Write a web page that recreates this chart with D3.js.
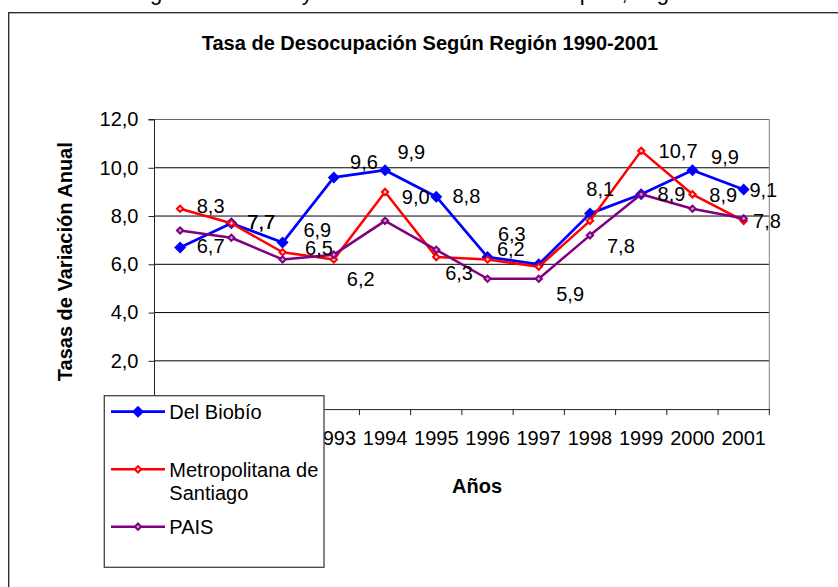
<!DOCTYPE html>
<html>
<head>
<meta charset="utf-8">
<script src="https://cdn.jsdelivr.net/npm/d3@7"></script>
<style>
  body { margin: 0; background: #fff; }
  svg { display: block; font-family: "Liberation Sans", Arial, sans-serif; }
</style>
</head>
<body>
<script>
const years = [1990, 1991, 1992, 1993, 1994, 1995, 1996, 1997, 1998, 1999, 2000, 2001];
const biobio = [6.7, 7.7, 6.9, 9.6, 9.9, 8.8, 6.3, 6.0, 8.1, 8.9, 9.9, 9.1];
const metropolitana = [8.3, 7.7, 6.5, 6.2, 9.0, 6.3, 6.2, 5.9, 7.8, 10.7, 8.9, 7.8];
const pais = [7.4, 7.1, 6.2, 6.4, 7.8, 6.6, 5.4, 5.4, 7.2, 8.9, 8.3, 7.9];
const yTicks = [0, 2, 4, 6, 8, 10, 12];
const seriesNames = ["Del Biobío", "Metropolitana de Santiago", "PAIS"];

// where each data label sits relative to its point (Excel moved some by hand)
const biobioLabelNudge = [[16.6, 6], [16, 6], [20.8, -5.3], [16.3, -8.5], [12.4, -10.9], [16.2, 6.6],
  [10.4, -16.4], null, [-3.7, -17.6], [16.4, 6.4], [18.6, -5.9], [5.7, 7.8]];
const metroLabelNudge = [[16.6, 4.5], [16, 6], [22.5, 3], [13, 26.2], [16.8, 12], [8.9, 22.9],
  [9.4, -3.8], [17.5, 34.6], [17, 32.4], [17.4, 7.4], [16.9, 7.4], [9.4, 7.4]];

const width = 838, height = 587;
const plot = { left: 154.5, right: 769.3, top: 119.5, bottom: 409.1 };
const fmt = v => v.toFixed(1).replace(".", ",");

const svg = d3.select("body").append("svg")
  .attr("width", width)
  .attr("height", height);

svg.append("rect").attr("width", width).attr("height", height).attr("fill", "#fff");

// caption of the page above, cut off by the picture's edge (only descenders show)
svg.append("text")
  .attr("x", 122)
  .attr("y", 0)
  .style("font-size", "22px")
  .text("Región del Biobío y Total País: Tasa de Desempleo, según INE");

// chart frame
svg.append("rect")
  .attr("x", 8.7).attr("y", 12.7)
  .attr("width", 900).attr("height", 700)
  .attr("fill", "#fff")
  .attr("stroke", "#222")
  .attr("stroke-width", 1.3);

svg.append("text")
  .attr("x", 430).attr("y", 49.5)
  .attr("text-anchor", "middle")
  .style("font-size", "20px")
  .style("font-weight", "bold")
  .text("Tasa de Desocupación Según Región 1990-2001");

const x = d3.scaleBand().domain(years).range([plot.left, plot.right]);
const y = d3.scaleLinear().domain([0, 12]).range([plot.bottom, plot.top]);
const cx = d => x(d) + x.bandwidth() / 2;

// gridlines
svg.append("g")
  .selectAll("line")
  .data(yTicks.filter(t => t > 0))
  .join("line")
    .attr("x1", plot.left).attr("x2", plot.right)
    .attr("y1", d => y(d)).attr("y2", d => y(d))
    .attr("stroke", d => d === 12 ? "#666" : "#000")
    .attr("stroke-width", 1);

// right border of plot area
svg.append("line")
  .attr("x1", plot.right).attr("x2", plot.right)
  .attr("y1", plot.top).attr("y2", plot.bottom)
  .attr("stroke", "#808080");

// y axis
const yAxis = svg.append("g")
  .attr("transform", `translate(${plot.left},0)`)
  .call(d3.axisLeft(y).tickValues(yTicks).tickSize(6).tickPadding(10).tickFormat(fmt));
yAxis.select(".domain").attr("stroke", "#222").attr("d", `M-6,${plot.top}H0V${plot.bottom}H-6`);
yAxis.selectAll("line").attr("stroke", "#222");
yAxis.selectAll("text").style("font-size", "20px").attr("fill", "#000");

// x axis
const xAxis = svg.append("g")
  .attr("transform", `translate(0,${plot.bottom})`)
  .call(d3.axisBottom(x).tickSize(0).tickPadding(21.7));
xAxis.select(".domain").attr("stroke", "#222");
xAxis.selectAll("text").style("font-size", "20px").attr("fill", "#000");
xAxis.append("g")
  .selectAll("line")
  .data(years.map(d => x(d)).concat([plot.right]))
  .join("line")
    .attr("x1", d => d).attr("x2", d => d)
    .attr("y1", 0).attr("y2", 6)
    .attr("stroke", "#222");

svg.append("text")
  .attr("transform", "translate(71.5,261.7) rotate(-90)")
  .attr("text-anchor", "middle")
  .style("font-size", "20px")
  .style("font-weight", "bold")
  .text("Tasas de Variación Anual");

svg.append("text")
  .attr("x", 477).attr("y", 493.3)
  .attr("text-anchor", "middle")
  .style("font-size", "20px")
  .style("font-weight", "bold")
  .text("Años");

const series = [
  { name: seriesNames[0], values: biobio, color: "#0000ff", width: 2.7, big: true, nudge: biobioLabelNudge },
  { name: seriesNames[1], values: metropolitana, color: "#ff0000", width: 2.5, big: false, nudge: metroLabelNudge },
  { name: seriesNames[2], values: pais, color: "#800080", width: 2.5, big: false, nudge: null }
];

const diamond = big => d3.symbol(d3.symbolSquare, big ? 72 : 20)();
const line = d3.line().x((d, i) => cx(years[i])).y(d => y(d));

function drawMarker(g, s) {
  g.attr("d", diamond(s.big))
    .attr("fill", s.big ? s.color : (s.color === "#800080" ? "#c9a0c9" : "#ffd0d0"))
    .attr("stroke", s.color)
    .attr("stroke-width", s.big ? 0 : 2);
}

for (const s of series) {
  const g = svg.append("g");
  g.append("path")
    .attr("d", line(s.values))
    .attr("fill", "none")
    .attr("stroke", s.color)
    .attr("stroke-width", s.width)
    .attr("stroke-linejoin", "round");
  g.selectAll("path.marker")
    .data(s.values)
    .join("path")
      .attr("class", "marker")
      .attr("transform", (d, i) => `translate(${cx(years[i])},${y(d)}) rotate(45)`)
      .call(sel => drawMarker(sel, s));
}

// data labels
for (const s of series.filter(s => s.nudge)) {
  svg.append("g")
    .selectAll("text")
    .data(s.values.map((v, i) => ({ v, i, n: s.nudge[i] })).filter(d => d.n))
    .join("text")
      .attr("x", d => cx(years[d.i]) + d.n[0])
      .attr("y", d => y(d.v) + d.n[1])
      .style("font-size", "20px")
      .text(d => fmt(d.v));
}

// legend
const legend = svg.append("g");
legend.append("rect")
  .attr("x", 104.3).attr("y", 395.7)
  .attr("width", 219.7).attr("height", 171.6)
  .attr("fill", "#fff")
  .attr("stroke", "#444")
  .attr("stroke-width", 1.3);

const legendRows = [411.7, 469.3, 526.7];
series.forEach((s, i) => {
  const ly = legendRows[i];
  legend.append("line")
    .attr("x1", 111).attr("x2", 165)
    .attr("y1", ly).attr("y2", ly)
    .attr("stroke", s.color)
    .attr("stroke-width", s.width);
  legend.append("path")
    .attr("transform", `translate(138,${ly}) rotate(45)`)
    .call(sel => drawMarker(sel, s));
  const t = legend.append("text")
    .attr("x", 169.3).attr("y", ly + 7.3)
    .style("font-size", "20px");
  if (i === 1) {
    t.append("tspan").attr("x", 169.3).text("Metropolitana de");
    t.append("tspan").attr("x", 169.3).attr("dy", 23.3).text("Santiago");
  } else {
    t.text(s.name);
  }
});
</script>
</body>
</html>
